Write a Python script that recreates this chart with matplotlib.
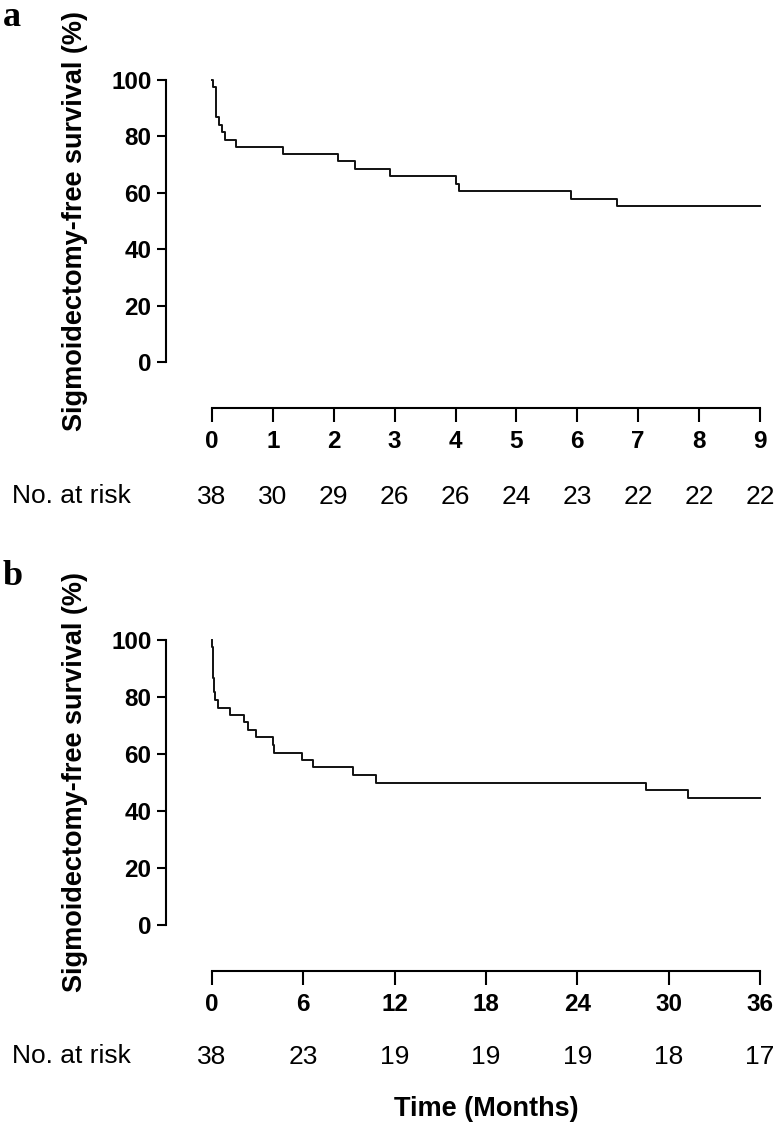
#! /usr/bin/env python3

import matplotlib
matplotlib.use("Agg")
import matplotlib.pyplot as plt
import numpy as np

plt.rcParams['font.family'] = ['Liberation Sans', 'DejaVu Sans']

# values (months, % sigmoidectomy-free)
times_a = [0, 0.02, 0.06, 0.12, 0.16, 0.22, 0.39, 1.17, 2.07, 2.35, 2.92, 4.0, 4.05, 5.9, 6.65, 9]
surv_a = [100, 97.4, 86.8, 84.2, 81.6, 78.9, 76.3, 73.7, 71.1, 68.4, 65.8, 63.2, 60.5, 57.9, 55.3, 55.3]
ticks_a = [0, 1, 2, 3, 4, 5, 6, 7, 8, 9]
risk_a = [38, 30, 29, 26, 26, 24, 23, 22, 22, 22]

times_b = [0, 0.02, 0.06, 0.12, 0.16, 0.22, 0.39, 1.17, 2.07, 2.35, 2.92, 4.0, 4.05, 5.9, 6.65,
           9.27, 10.8, 28.5, 31.3, 36]
surv_b = [100, 97.4, 86.8, 84.2, 81.6, 78.9, 76.3, 73.7, 71.1, 68.4, 65.8, 63.2, 60.5, 57.9, 55.3,
          52.6, 50.0, 47.4, 44.7, 44.7]
ticks_b = [0, 6, 12, 18, 24, 30, 36]
risk_b = [38, 23, 19, 19, 19, 18, 17]

W, H = 774, 1125
fig = plt.figure(figsize=(W / 100, H / 100), dpi=100)

def px_axes(left, top, right, bottom):
    return fig.add_axes([left / W, 1 - bottom / H, (right - left) / W, (bottom - top) / H])

def km_panel(ax, times, surv, ticks, risk, height_px, risk_y_px):
    ax.plot(times, surv, drawstyle='steps-post', color='#111111', lw=1.4, clip_on=False)
    ax.set_xlim(ticks[0], ticks[-1])
    ax.set_ylim(0, 100)
    ax.set_xticks(ticks)
    ax.set_yticks(range(0, 101, 20))
    for side in ('top', 'right'):
        ax.spines[side].set_visible(False)
    for side in ('left', 'bottom'):
        ax.spines[side].set_position(('outward', 33))
        ax.spines[side].set_linewidth(1.5)
    ax.tick_params(axis='x', length=10, width=1.5, pad=6, labelsize=17.5)
    ax.tick_params(axis='y', length=6.5, width=1.5, pad=4, labelsize=17.5)
    for lab in ax.get_xticklabels() + ax.get_yticklabels():
        lab.set_fontweight('bold')
    ax.set_ylabel('Sigmoidectomy-free survival (%)', fontsize=19.5, fontweight='bold')
    ax.yaxis.set_label_coords(-0.226, 0.5)

    # number at risk row
    y = -risk_y_px / height_px
    for t, n in zip(ticks, risk):
        ax.text(t, y, str(n), transform=ax.get_xaxis_transform(), ha='center', va='center', fontsize=19)

ax_a = px_axes(212, 80, 760, 362)
km_panel(ax_a, times_a, surv_a, ticks_a, risk_a, 282, 497 - 362)
fig.text(12 / W, 1 - 496 / H, 'No. at risk', ha='left', va='center', fontsize=19)

ax_b = px_axes(212, 640, 760, 925)
km_panel(ax_b, times_b, surv_b, ticks_b, risk_b, 285, 1057 - 925)
fig.text(12 / W, 1 - 1056 / H, 'No. at risk', ha='left', va='center', fontsize=19)
ax_b.set_xlabel('Time (Months)', fontsize=19.5, fontweight='bold')
ax_b.xaxis.set_label_coords(0.5, -(1096 - 925) / 285)

fig.text(3 / W, 1 - 1 / H, 'a', ha='left', va='top', fontsize=26, fontweight='bold', family='Liberation Serif')
fig.text(3 / W, 1 - 560 / H, 'b', ha='left', va='top', fontsize=26, fontweight='bold', family='Liberation Serif')

plt.savefig('out.png', dpi=100)
